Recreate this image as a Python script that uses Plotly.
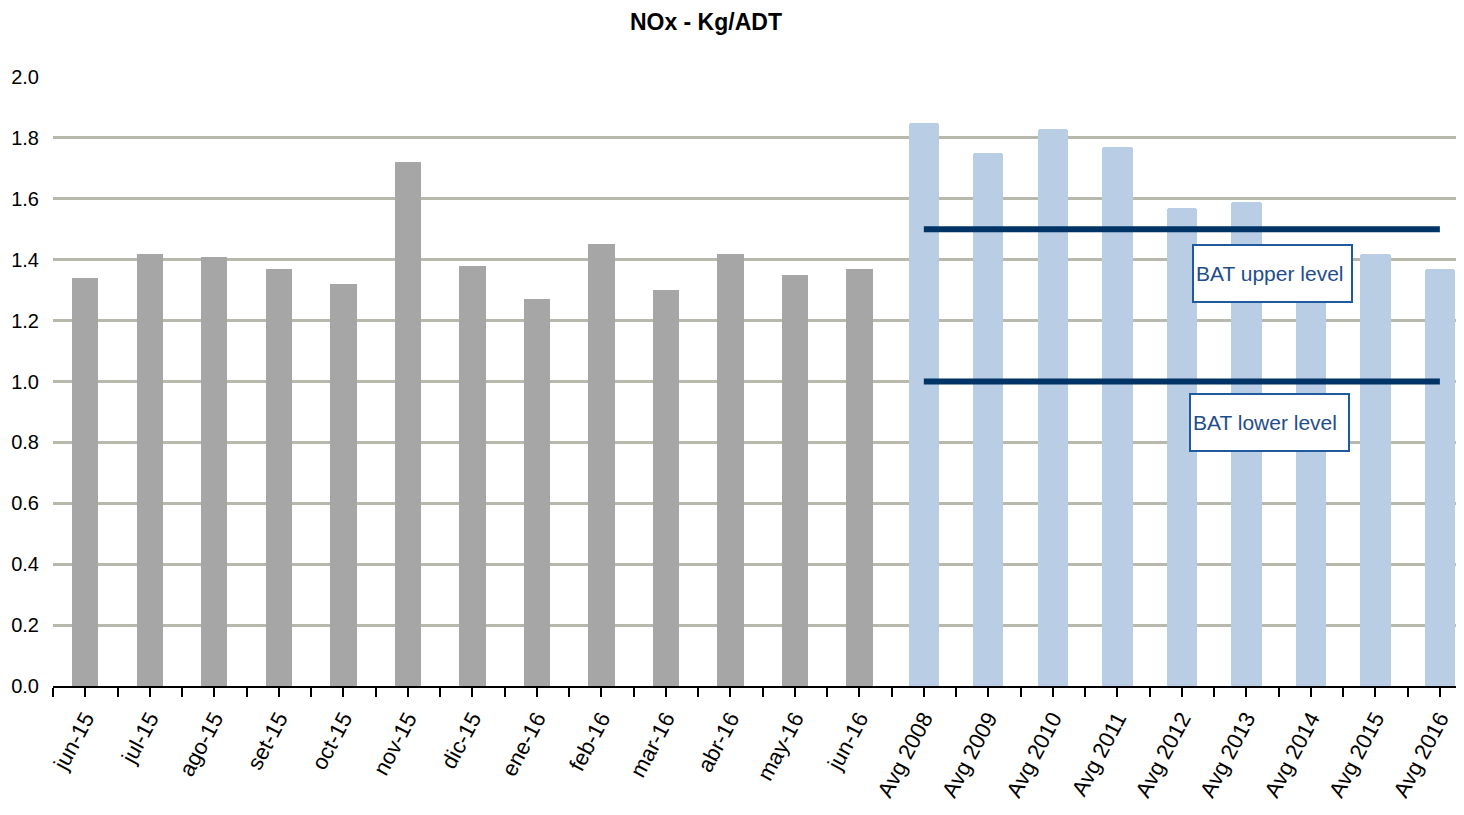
import plotly.graph_objects as go

# ---- data ----
months = ["jun-15", "jul-15", "ago-15", "set-15", "oct-15", "nov-15", "dic-15",
          "ene-16", "feb-16", "mar-16", "abr-16", "may-16", "jun-16"]
month_values = [1.34, 1.42, 1.41, 1.37, 1.32, 1.72, 1.38, 1.27, 1.45, 1.30, 1.42, 1.35, 1.37]

years = ["Avg 2008", "Avg 2009", "Avg 2010", "Avg 2011", "Avg 2012",
         "Avg 2013", "Avg 2014", "Avg 2015", "Avg 2016"]
year_values = [1.85, 1.75, 1.83, 1.77, 1.57, 1.59, 1.33, 1.42, 1.37]

bat_upper = 1.5
bat_lower = 1.0
bat_upper_label = "BAT upper level"
bat_lower_label = "BAT lower level"

y_ticks = [0.0, 0.2, 0.4, 0.6, 0.8, 1.0, 1.2, 1.4, 1.6, 1.8, 2.0]
title_text = "NOx - Kg/ADT"

# ---- positions ----
categories = months + years
pos = {c: i for i, c in enumerate(categories)}
x_months = [pos[c] for c in months]
x_years = [pos[c] for c in years]

FONT = "Liberation Sans, Arial, sans-serif"

fig = go.Figure()
fig.add_trace(go.Bar(x=x_months, y=month_values, width=0.41,
                     marker=dict(color="#A6A6A6", line=dict(width=0)),
                     showlegend=False, hoverinfo="skip"))
fig.add_trace(go.Bar(x=x_years, y=year_values, width=0.47,
                     marker=dict(color="#B9CDE5", line=dict(width=0), cornerradius=3),
                     showlegend=False, hoverinfo="skip"))

for lvl in (bat_upper, bat_lower):
    fig.add_trace(go.Scatter(x=[pos[years[0]], pos[years[-1]]], y=[lvl, lvl],
                             mode="lines", line=dict(color="#003366", width=6),
                             showlegend=False, hoverinfo="skip"))

# tick positions at centers and boundaries
tickvals = []
ticktext = []
for i, c in enumerate(categories):
    tickvals += [i - 0.5, i]
    ticktext += ["", c]
tickvals.append(len(categories) - 0.5)
ticktext.append("")

ann_font = dict(family=FONT, size=21, color="#1F4E8C")
fig.add_annotation(x=pos["Avg 2014"] - 0.59, y=1.355, xref="x", yref="y",
                   text=bat_upper_label, showarrow=False, font=ann_font,
                   bgcolor="white", bordercolor="#1F5AA0", borderwidth=2,
                   width=153, height=51, align="left", borderpad=2)
fig.add_annotation(x=pos["Avg 2014"] - 0.64, y=0.864, xref="x", yref="y",
                   text=bat_lower_label, showarrow=False, font=ann_font,
                   bgcolor="white", bordercolor="#1F5AA0", borderwidth=2,
                   width=153, height=51, align="left", borderpad=2)

fig.update_layout(
    width=1448, height=799,
    margin=dict(l=45, r=0, t=69, b=121),
    paper_bgcolor="white", plot_bgcolor="white",
    bargap=0,
    title=dict(text="<b>" + title_text + "</b>", x=0.482, xanchor="center",
               y=0.982, yanchor="middle",
               font=dict(family=FONT, size=23, color="black")),
    font=dict(family=FONT, color="black"),
)
fig.update_xaxes(
    range=[-0.5, 21.25],
    tickmode="array", tickvals=tickvals, ticktext=ticktext,
    tickangle=-62, tickfont=dict(family=FONT, size=22, color="black"),
    ticks="outside", ticklen=9, tickwidth=1.5, tickcolor="black",
    showline=True, linecolor="black", linewidth=2,
    showgrid=False, zeroline=False, automargin=False,
)
fig.update_yaxes(
    range=[0, 2.0], tickmode="array", tickvals=y_ticks,
    ticktext=[f"{v:.1f}" for v in y_ticks],
    tickfont=dict(family=FONT, size=20, color="black"),
    ticks="outside", ticklen=9, tickcolor="rgba(0,0,0,0)",
    showgrid=True, gridcolor="#B8B8AC", gridwidth=3,
    zeroline=False, showline=False, automargin=False,
)

fig.write_html("out.html")
